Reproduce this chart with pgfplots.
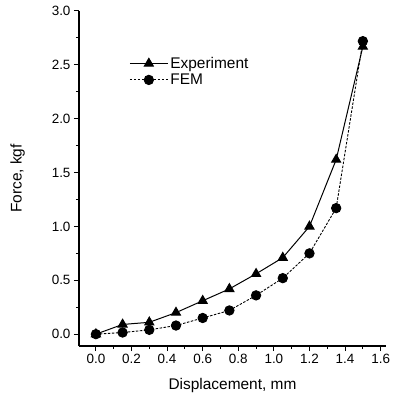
\documentclass[border=0pt]{standalone}
\usepackage{fontspec}
\setmainfont{Liberation Sans}
\usepackage{pgfplots}
\pgfplotsset{compat=1.18}
\begin{document}
\begin{tikzpicture}
\begin{axis}[
  scale only axis,
  width=307bp, height=335bp,
  xmin=-0.095, xmax=1.63,
  ymin=-0.11, ymax=3.0,
  axis lines=left,
  axis line style={-, line width=1.2pt},
  xtick={0,0.2,...,1.6},
  ytick={0,0.5,...,3.0},
  minor x tick num=1,
  minor y tick num=1,
  tick align=outside,
  major tick length=5bp,
  minor tick length=3bp,
  tick style={line width=1pt, black},
  xticklabel style={/pgf/number format/fixed,/pgf/number format/fixed zerofill,/pgf/number format/precision=1},
  yticklabel style={/pgf/number format/fixed,/pgf/number format/fixed zerofill,/pgf/number format/precision=1},
  /pgf/number format/assume math mode=true,
  ticklabel style={font=\fontsize{13.5}{13.5}\selectfont},
  label style={font=\fontsize{15.5}{15.5}\selectfont},
  xlabel={Displacement, mm},
  ylabel={Force, kgf},
  xlabel style={yshift=-7bp},
  ylabel style={yshift=20bp},
  legend style={at={(axis cs:0.17,2.61)}, anchor=north west, draw=none, fill=none,
    font=\fontsize{15.5}{15.5}\selectfont, row sep=0bp},
  legend cell align=left,
  legend image code/.code={\draw[mark repeat=2,mark phase=2,#1] plot coordinates {(0bp,0bp)(19bp,0bp)(38bp,0bp)};},
]
\addplot[black, line width=1pt, mark=triangle*, mark size=5.2bp, mark options={solid}] coordinates {
(0,0) (0.15,0.09) (0.3,0.11) (0.45,0.2) (0.6,0.31) (0.75,0.42) (0.9,0.56) (1.05,0.71) (1.2,1.0) (1.35,1.62) (1.5,2.67)
};
\addlegendentry{Experiment}
\addplot[black, line width=0.9pt, dash pattern=on 2.5bp off 1.5bp, mark=*, mark size=4.7bp, mark options={solid}] coordinates {
(0,0) (0.15,0.015) (0.3,0.04) (0.45,0.08) (0.6,0.15) (0.75,0.22) (0.9,0.36) (1.05,0.52) (1.2,0.75) (1.35,1.17) (1.5,2.72)
};
\addlegendentry{FEM}
\end{axis}
\path (current axis.south west) ++(-79bp,-53bp);
\path (current axis.north east) ++(2bp,11bp);
\end{tikzpicture}
\end{document}
